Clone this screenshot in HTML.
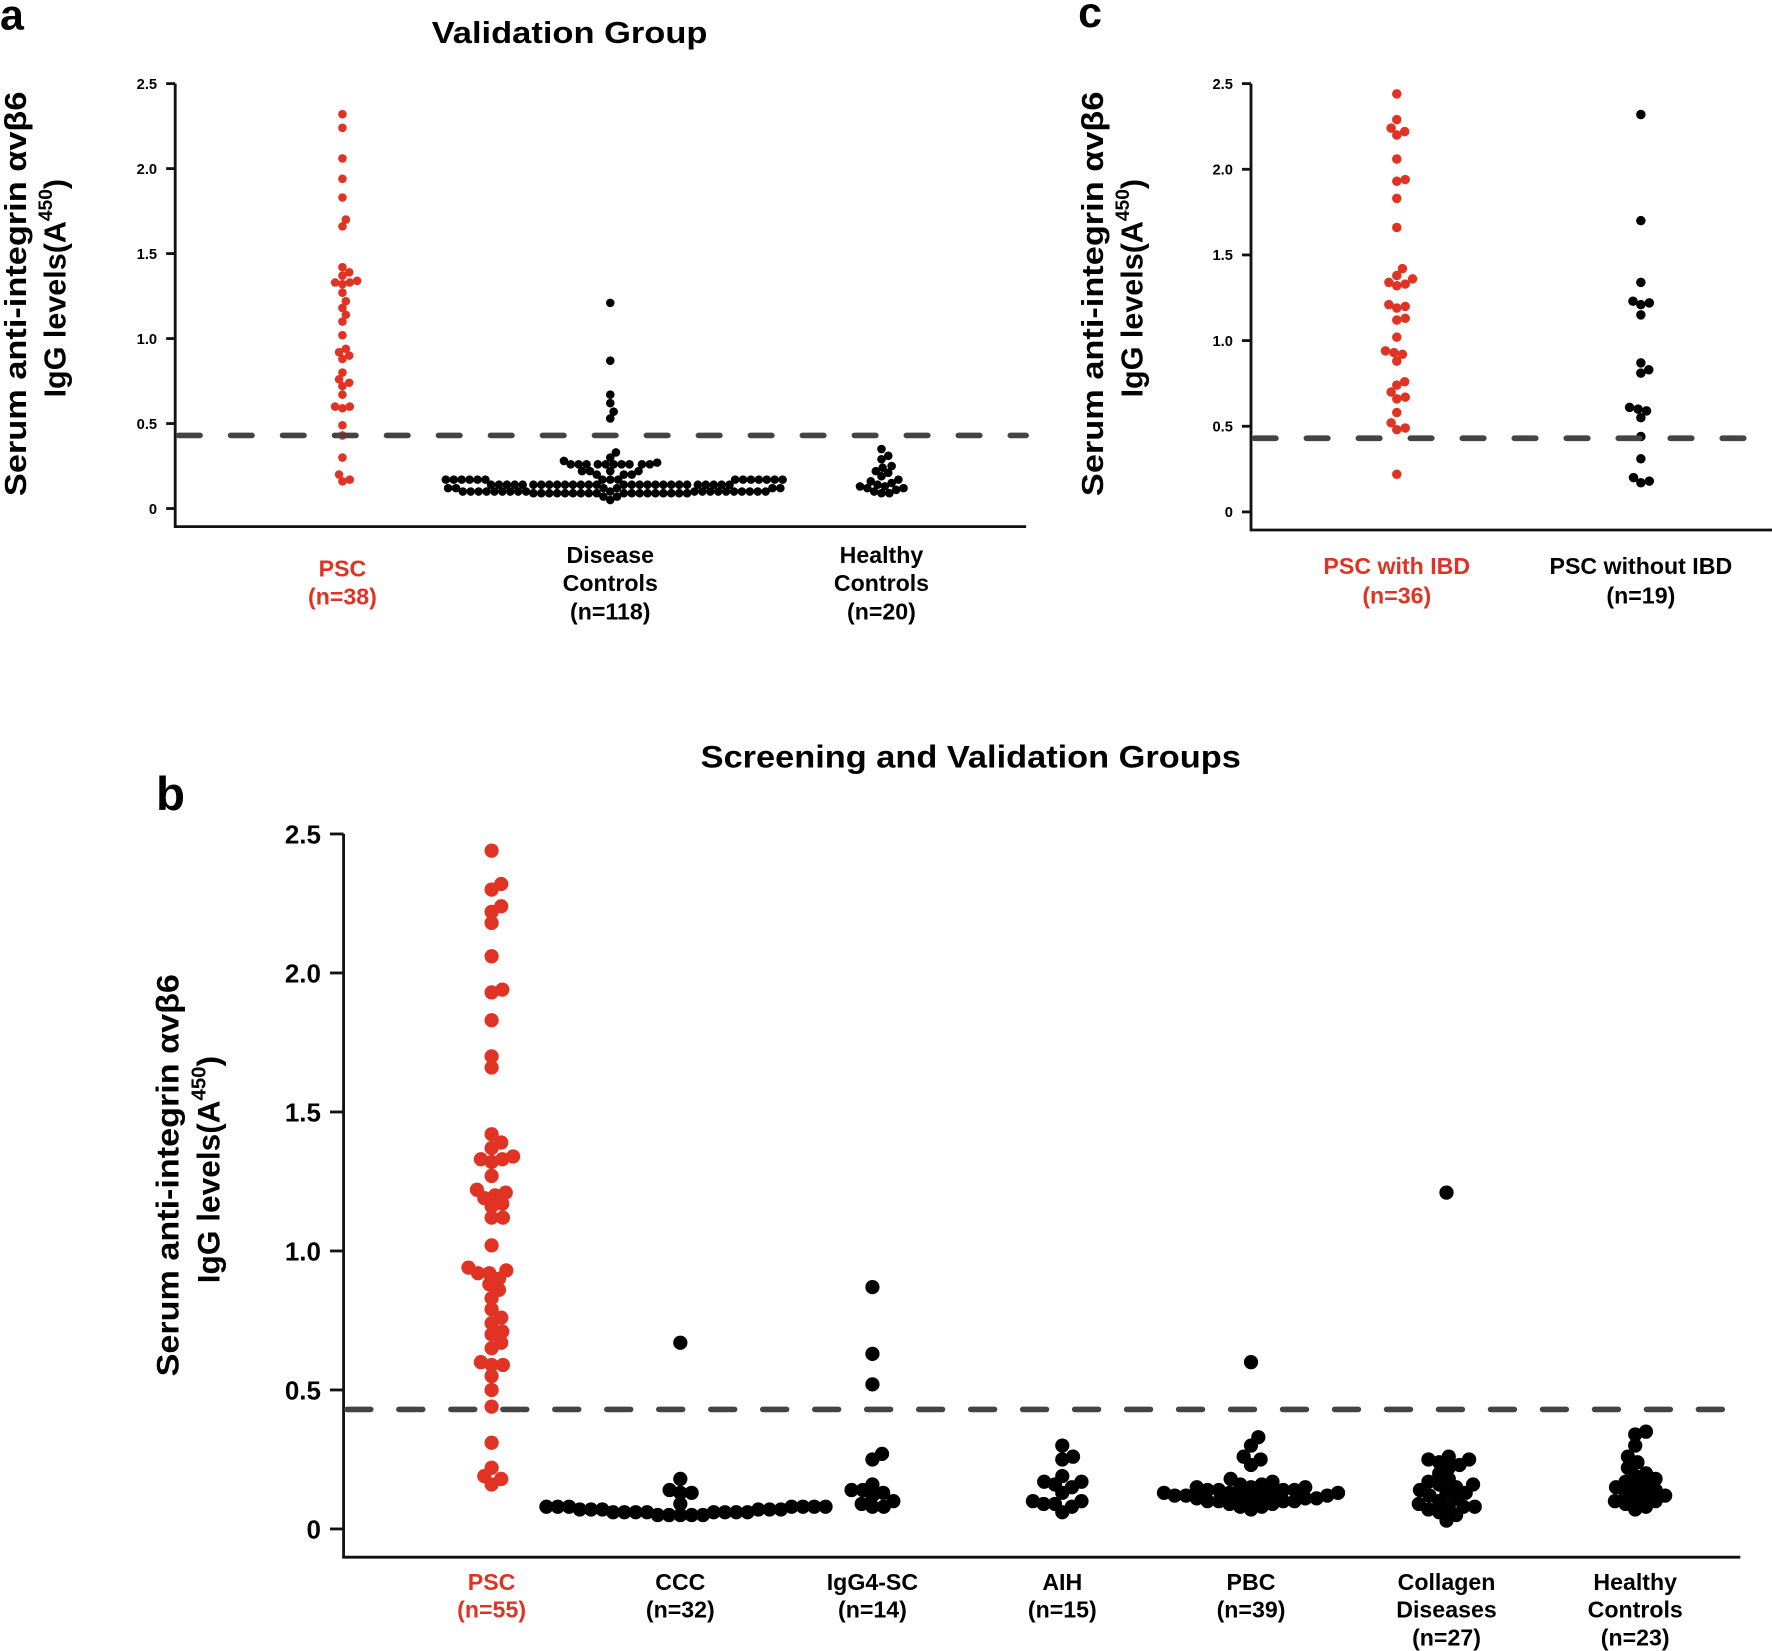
<!DOCTYPE html>
<html><head><meta charset="utf-8"><style>
html,body{margin:0;padding:0;background:#fff}
svg{display:block}
text{font-family:"Liberation Sans",sans-serif;font-weight:bold}
</style></head><body>
<svg id="fig" width="1772" height="1651" viewBox="0 0 1568 1461" xmlns="http://www.w3.org/2000/svg">
<g>
<text x="0" y="26" font-size="38">a</text>
<text x="504" y="38" font-size="27" text-anchor="middle" textLength="244" lengthAdjust="spacingAndGlyphs">Validation Group</text>
<text transform="translate(23,260) rotate(-90)" font-size="27" text-anchor="middle" textLength="358" lengthAdjust="spacingAndGlyphs">Serum anti-integrin αvβ6</text>
<text transform="translate(58,255) rotate(-90)" font-size="27" text-anchor="middle">IgG levels(A<tspan font-size="17" dy="-12">450</tspan><tspan dy="12">)</tspan></text>
<g id="axA"></g>
<text x="303" y="510" font-size="20.5" fill="#e03324" text-anchor="middle">PSC</text>
<text x="303" y="535" font-size="20.5" fill="#e03324" text-anchor="middle">(n=38)</text>
<text x="540" y="498" font-size="20.5" text-anchor="middle">Disease</text>
<text x="540" y="523" font-size="20.5" text-anchor="middle">Controls</text>
<text x="540" y="548" font-size="20.5" text-anchor="middle">(n=118)</text>
<text x="780" y="498" font-size="20.5" text-anchor="middle">Healthy</text>
<text x="780" y="523" font-size="20.5" text-anchor="middle">Controls</text>
<text x="780" y="548" font-size="20.5" text-anchor="middle">(n=20)</text>
</g>
<g>
<text x="954" y="24" font-size="38">c</text>
<text transform="translate(976,260) rotate(-90)" font-size="27" text-anchor="middle" textLength="358" lengthAdjust="spacingAndGlyphs">Serum anti-integrin αvβ6</text>
<text transform="translate(1011,255) rotate(-90)" font-size="27" text-anchor="middle">IgG levels(A<tspan font-size="17" dy="-12">450</tspan><tspan dy="12">)</tspan></text>
<g id="axC"></g>
<text x="1236" y="508" font-size="20.5" fill="#e03324" text-anchor="middle">PSC with IBD</text>
<text x="1236" y="534" font-size="20.5" fill="#e03324" text-anchor="middle">(n=36)</text>
<text x="1452" y="508" font-size="20.5" text-anchor="middle">PSC without IBD</text>
<text x="1452" y="534" font-size="20.5" text-anchor="middle">(n=19)</text>
</g>
<g>
<text x="138" y="717" font-size="42">b</text>
<text x="859" y="679" font-size="28" text-anchor="middle" textLength="478" lengthAdjust="spacingAndGlyphs">Screening and Validation Groups</text>
<text transform="translate(158,1040) rotate(-90)" font-size="28" text-anchor="middle" textLength="356" lengthAdjust="spacingAndGlyphs">Serum anti-integrin αvβ6</text>
<text transform="translate(194,1035) rotate(-90)" font-size="28" text-anchor="middle">IgG levels(A<tspan font-size="18" dy="-12">450</tspan><tspan dy="12">)</tspan></text>
<g id="axB"></g>
<g id="labB"></g>
</g>
</svg>
<script>
// ---- data ----
const ticks = [0, 0.5, 1.0, 1.5, 2.0, 2.5];
const tickLabels = ["0", "0.5", "1.0", "1.5", "2.0", "2.5"];
const cutoff = 0.43;

const aCategories = ["PSC", "Disease Controls", "Healthy Controls"];
const aPSC = [2.32,2.24,2.06,1.94,1.83,1.70,1.66,1.42,1.39,1.37,1.34,1.33,1.33,1.32,1.27,1.22,1.18,1.14,1.10,1.02,0.94,0.92,0.90,0.88,0.80,0.76,0.74,0.72,0.67,0.60,0.60,0.59,0.49,0.43,0.30,0.20,0.17,0.16];
const aDisease = [1.21,0.87,0.67,0.62,0.57,0.53,0.33,0.30,0.28,0.27,
0.26,0.26,0.26,0.26,0.26,0.26,0.26,0.26,0.26,0.26,
0.22,0.22,0.22,0.22,0.20,0.20,0.20,
0.17,0.17,0.17,0.17,0.17,0.17,0.17,0.17,0.17,0.17,0.17,0.17,0.17,0.17,0.17,0.17,
0.14,0.14,0.14,0.14,0.14,0.14,0.14,0.14,0.14,0.14,0.14,0.14,0.14,0.14,0.14,0.14,0.14,0.14,0.14,0.14,0.14,0.14,0.14,0.14,0.14,0.14,0.14,0.14,
0.12,0.12,0.12,0.12,0.12,0.12,
0.10,0.10,0.10,0.10,0.10,0.10,0.10,0.10,0.10,0.10,0.10,0.10,0.10,0.10,0.10,0.10,0.10,0.10,0.10,0.10,
0.09,0.09,0.09,0.09,0.09,0.09,0.09,0.09,0.09,0.09,0.09,0.09,0.09,0.09,0.09,0.09,0.09,0.09,
0.07,0.07,0.05];
const aHealthy = [0.35,0.31,0.29,0.25,0.24,0.22,0.21,0.19,0.17,0.16,0.15,0.14,0.13,0.13,0.12,0.12,0.11,0.10,0.09,0.09];

const cCategories = ["PSC with IBD", "PSC without IBD"];
const cWith = [2.44,2.29,2.24,2.22,2.20,2.06,1.94,1.93,1.83,1.66,1.42,1.38,1.36,1.34,1.33,1.32,1.21,1.20,1.19,1.13,1.12,1.02,0.94,0.93,0.92,0.88,0.76,0.74,0.70,0.67,0.66,0.58,0.52,0.49,0.48,0.22];
const cWithout = [2.32,1.70,1.34,1.23,1.22,1.21,1.15,0.87,0.83,0.81,0.61,0.60,0.59,0.55,0.44,0.31,0.20,0.18,0.17];

const bCategories = ["PSC","CCC","IgG4-SC","AIH","PBC","Collagen Diseases","Healthy Controls"];
const bCounts = ["(n=55)","(n=32)","(n=14)","(n=15)","(n=39)","(n=27)","(n=23)"];
const bPSC = [2.44,2.32,2.30,2.24,2.22,2.18,2.06,1.94,1.93,1.83,1.70,1.66,1.42,1.39,1.37,1.34,1.33,1.33,1.32,1.27,1.22,1.21,1.20,1.19,1.17,1.16,1.12,1.12,1.02,0.94,0.93,0.92,0.92,0.90,0.88,0.86,0.83,0.79,0.76,0.74,0.71,0.70,0.67,0.65,0.60,0.59,0.59,0.55,0.50,0.44,0.31,0.22,0.19,0.18,0.16];
const bCCC = [0.67,0.18,0.14,0.13,0.13,0.09,0.08,0.08,0.08,0.08,0.08,0.08,0.08,0.07,0.07,0.07,0.07,0.07,0.07,0.06,0.06,0.06,0.06,0.06,0.06,0.06,0.06,0.05,0.05,0.05,0.05,0.05];
const bIgG4 = [0.87,0.63,0.52,0.27,0.25,0.16,0.14,0.14,0.13,0.12,0.10,0.09,0.08,0.08];
const bAIH = [0.30,0.26,0.25,0.19,0.17,0.17,0.16,0.15,0.13,0.10,0.10,0.09,0.09,0.08,0.06];
const bPBC = [0.60,0.33,0.30,0.26,0.25,0.23,0.18,0.17,0.16,0.16,0.15,0.15,0.15,0.14,0.14,0.14,0.14,0.13,0.13,0.13,0.13,0.12,0.12,0.12,0.12,0.12,0.11,0.11,0.11,0.11,0.10,0.10,0.10,0.10,0.09,0.09,0.08,0.08,0.07];
const bCollagen = [1.21,0.26,0.25,0.25,0.24,0.23,0.22,0.20,0.18,0.17,0.16,0.16,0.15,0.14,0.13,0.13,0.12,0.11,0.10,0.09,0.08,0.08,0.08,0.07,0.06,0.05,0.03];
const bHealthy = [0.35,0.34,0.30,0.26,0.24,0.22,0.20,0.19,0.18,0.17,0.16,0.15,0.15,0.14,0.13,0.12,0.12,0.11,0.10,0.10,0.09,0.08,0.07];

const RED = "#e03324";
const NS = "http://www.w3.org/2000/svg";
function mk(tag, parent, attrs) {
  const e = document.createElementNS(NS, tag);
  for (const k in attrs) e.setAttribute(k, attrs[k]);
  parent.appendChild(e);
  return e;
}

function swarm(values, cx, yScale, r, f) {
  const pts = [];
  const sorted = values.slice().sort((a, b) => a - b);
  const d = r * f;
  for (const v of sorted) {
    const y = yScale(v);
    let best = null;
    for (let k = 0; k < 600 && best === null; k++) {
      const cands = k === 0 ? [0] : [k * 0.5, -k * 0.5];
      for (const off of cands) {
        const x = cx + off;
        if (pts.every(p => (p.x - x) ** 2 + (p.y - y) ** 2 >= d * d)) { best = x; break; }
      }
    }
    pts.push({ x: best, y: y, v: v });
  }
  return pts;
}

function panel(g, cfg) {
  const y = v => cfg.y0 - v * (cfg.y0 - cfg.y25) / 2.5;
  const axis = mk('path', g, { d: `M${cfg.x0} ${y(2.5)}V${cfg.xAxisY}H${cfg.x1}`, stroke: '#111', 'stroke-width': cfg.aw, fill: 'none' });
  
  
  ticks.forEach((t, i) => {
    const tk = mk('line', g, { x1: cfg.x0 - cfg.tl, x2: cfg.x0, y1: y(t), y2: y(t), stroke: '#111', 'stroke-width': cfg.aw });
    
    
    const lb = mk('text', g, { x: cfg.x0 - cfg.tl - 8, y: y(t) + cfg.fs * 0.36, 'font-size': cfg.fs, 'text-anchor': 'end' });
    lb.textContent = tickLabels[i];
    
    
  });
  cfg.series.forEach((s, i) => {
    const pts = swarm(s, cfg.cx[i], y, cfg.r, cfg.f);
    pts.forEach(p => {
      const c = mk('circle', g, { cx: p.x, cy: p.y, r: cfg.r, fill: i === 0 ? RED : '#000' });
      
      
    });
  });
  const dl = mk('line', g, { x1: cfg.x0 + 3, x2: cfg.x1, y1: y(cutoff), y2: y(cutoff), stroke: '#444', 'stroke-width': cfg.dw, 'stroke-dasharray': cfg.dash, 'stroke-linecap': 'round' });
  
  
}

panel(document.getElementById('axA'), { x0: 155, x1: 908, y0: 450, y25: 74, xAxisY: 466, aw: 2.5, tl: 8, fs: 13, r: 3.8, f: 1.75, dw: 5, dash: '19 27',
  cx: [303, 540, 780], series: [aPSC, aDisease, aHealthy] });
panel(document.getElementById('axC'), { x0: 1107, x1: 1568, y0: 453, y25: 74, xAxisY: 469, aw: 2.5, tl: 8, fs: 13, r: 4.2, f: 1.8, dw: 5, dash: '19 27',
  cx: [1236, 1452], series: [cWith, cWithout] });
panel(document.getElementById('axB'), { x0: 304, x1: 1540, y0: 1353, y25: 738, xAxisY: 1378, aw: 2.5, tl: 12, fs: 23, r: 6.3, f: 1.55, dw: 5, dash: '21 25',
  cx: [435, 602, 772, 940, 1107, 1280, 1447], series: [bPSC, bCCC, bIgG4, bAIH, bPBC, bCollagen, bHealthy] });

const labB = document.getElementById('labB');
const bcx = [435, 602, 772, 940, 1107, 1280, 1447];
bCategories.forEach((c, i) => {
  const words = c.split(' ');
  const lines = words.concat([bCounts[i]]);
  lines.forEach((ln, j) => {
    const t = mk('text', labB, { x: bcx[i], y: 1407 + j * 24.5, 'font-size': 20.5, 'text-anchor': 'middle', fill: i === 0 ? RED : '#000' });
    t.textContent = ln;
    
    
  });
});
</script>
</body></html>
